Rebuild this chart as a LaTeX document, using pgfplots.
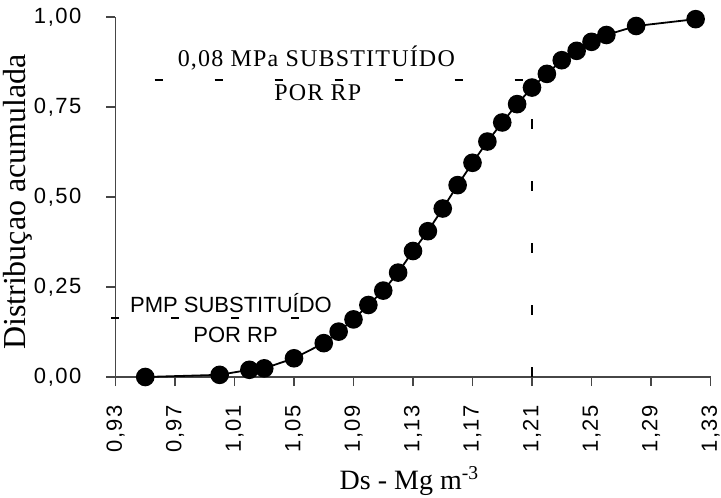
\documentclass[border=0pt]{standalone}
\usepackage{pgfplots}
\pgfplotsset{compat=1.18}
\usepackage{fontspec}
\setmainfont{Liberation Serif}
\newfontfamily\ticksf[LetterSpace=7]{Liberation Sans}
\newfontfamily\notesf{Liberation Sans}
\newfontfamily\notesr[LetterSpace=5]{Liberation Serif}
\definecolor{axisgray}{RGB}{70,70,70}

\begin{document}
\begin{tikzpicture}
\begin{axis}[
  scale only axis, width=297.5pt, height=180pt,
  xmin=0.93, xmax=1.33, ymin=0, ymax=1,
  axis x line=bottom, axis y line=left,
  axis line style={-, line width=0.9pt, axisgray},
  clip=false,
  xtick={0.93,0.97,1.01,1.05,1.09,1.13,1.17,1.21,1.25,1.29,1.33},
  ytick={0,0.25,0.5,0.75,1},
  tick align=outside, major tick length=4.5pt,
  tick style={line width=0.9pt, axisgray},
  tick label style={font=\ticksf\fontsize{11}{11}\selectfont},
  xticklabel style={rotate=90, anchor=east, xshift=-6pt, yshift=0pt},
  yticklabel style={xshift=-9pt},
  /pgf/number format/assume math mode=true,
  /pgf/number format/use comma,
  /pgf/number format/fixed,
  /pgf/number format/fixed zerofill,
  /pgf/number format/precision=2,
  xlabel={Ds - Mg m\textsuperscript{-3}},
  xlabel style={font=\fontsize{14}{14}\selectfont, at={(rel axis cs:0.494,0)}, anchor=north, inner sep=0pt, yshift=-44.5pt},
  ylabel={Distribuçao acumulada},
  ylabel style={font=\fontsize{16}{16}\selectfont, at={(rel axis cs:0,0.486)}, anchor=south, inner sep=0pt, yshift=41.5pt},
]
\coordinate (O) at (rel axis cs:0,0);

% linhas de referencia tracejadas
\addplot[black, line width=1pt, dash pattern=on 4pt off 26pt, forget plot]
  coordinates {(0.9563,0.825) (1.21,0.825)};
\addplot[black, line width=1pt, dash pattern=on 5pt off 26pt, forget plot]
  coordinates {(1.21,0) (1.21,0.825)};
\addplot[black, line width=1pt, dash pattern=on 4pt off 26pt, forget plot]
  coordinates {(0.927,0.164) (1.09,0.164)};

% distribuicao acumulada
\addplot[black, line width=0.9pt, mark=*, mark size=4.2pt, mark options={fill=black}]
  coordinates {
  (0.95,0.000) (1.00,0.006) (1.02,0.020) (1.03,0.024) (1.05,0.052)
  (1.07,0.094) (1.08,0.126) (1.09,0.160) (1.10,0.200) (1.11,0.240)
  (1.12,0.290) (1.13,0.350) (1.14,0.405) (1.15,0.468) (1.16,0.533)
  (1.17,0.595) (1.18,0.654) (1.19,0.707) (1.20,0.758) (1.21,0.804)
  (1.22,0.842) (1.23,0.880) (1.24,0.906) (1.25,0.931) (1.26,0.950)
  (1.28,0.975) (1.32,0.994)};

\node[font=\notesr\fontsize{12}{12}\selectfont] at (axis cs:1.065,0.886) {0,08 MPa SUBSTITUÍDO};
\node[font=\notesr\fontsize{12}{12}\selectfont] at (axis cs:1.066,0.790) {POR RP};
\node[font=\notesf\fontsize{11}{11}\selectfont] at (axis cs:1.0076,0.205) {PMP SUBSTITUÍDO};
\node[font=\notesf\fontsize{11}{11}\selectfont] at (axis cs:1.0107,0.117) {POR RP};
\end{axis}
\pgfresetboundingbox
\path[use as bounding box] (O) ++(-57.75pt,-60pt) rectangle ++(360.5pt,248.5pt);
\end{tikzpicture}
\end{document}
